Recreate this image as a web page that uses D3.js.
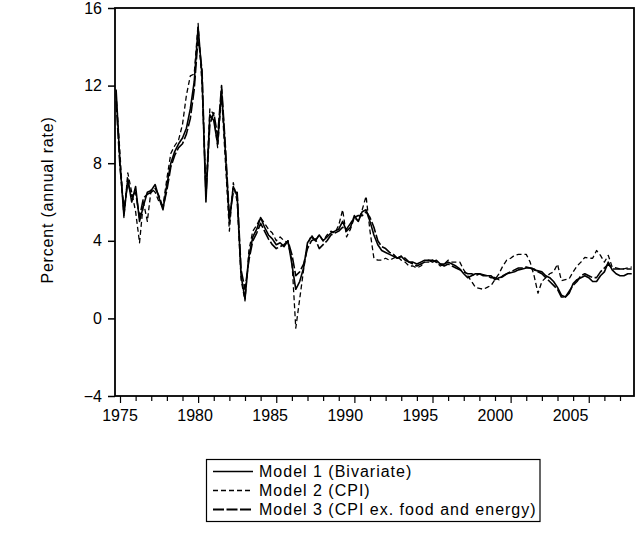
<!DOCTYPE html>
<html><head><meta charset="utf-8">
<script src="https://cdn.jsdelivr.net/npm/d3@7"></script>
<style>
body{margin:0;background:#fff}
svg{display:block}
text{font-family:"Liberation Sans",Arial,sans-serif;fill:#000}
</style>
</head><body>
<svg id="c" width="635" height="558"></svg>
<script>
// quarterly data, first observation 1974Q4
const startYear = 1974.75;
const model1 = [11.8,
8.0,5.3,7.2,6.0,
6.8,5.0,5.8,6.5,
6.6,6.9,6.2,5.6,
6.9,8.0,8.6,9.0,
9.3,9.8,10.8,12.2,
15.0,12.5,6.0,10.5,
10.2,9.0,11.8,8.5,
5.0,6.8,6.3,2.2,
1.0,3.2,4.2,4.6,
5.2,4.7,4.3,4.1,
3.8,3.9,3.7,4.0,
2.8,1.5,1.9,2.6,
3.9,4.2,4.0,4.3,
4.0,4.2,4.4,4.5,
4.6,5.0,4.5,4.7,
5.3,5.0,5.5,5.6,
5.0,4.3,3.8,3.5,
3.4,3.3,3.2,3.1,
3.2,3.0,2.9,2.9,
2.8,2.9,3.0,3.0,
2.9,3.0,2.8,2.8,
2.9,2.8,2.7,2.55,
2.3,2.1,2.2,2.3,
2.3,2.25,2.2,2.2,
2.0,2.1,2.15,2.3,
2.35,2.4,2.5,2.55,
2.6,2.6,2.5,2.45,
2.4,2.2,2.1,1.9,
1.6,1.2,1.1,1.3,
1.8,2.0,2.1,2.2,
2.1,1.9,1.9,2.2,
2.4,2.9,2.5,2.3,
2.2,2.2,2.3,2.3];
const model2 = [11.6,
8.5,5.2,7.5,6.5,
5.5,3.9,6.0,5.0,
6.7,6.5,6.0,5.8,
7.2,8.5,8.9,9.2,
10.0,11.5,12.5,12.6,
15.2,12.0,6.5,10.8,
10.5,8.8,11.5,8.0,
4.5,7.0,6.0,2.0,
0.9,3.5,4.5,4.8,
5.2,4.9,4.6,4.4,
4.0,4.2,4.0,3.9,
3.0,-0.5,1.0,2.5,
3.8,4.3,4.0,4.3,
4.0,4.3,4.5,4.4,
4.8,5.6,4.2,4.6,
5.2,5.0,5.6,6.3,
4.5,3.1,3.0,3.0,
3.1,3.0,3.1,3.2,
3.0,2.9,2.7,2.7,
2.6,2.7,2.9,2.9,
3.0,2.9,2.7,2.8,
3.0,2.9,2.9,2.9,
2.5,2.2,1.9,1.6,
1.55,1.5,1.6,1.7,
2.0,2.3,2.7,3.0,
3.1,3.25,3.3,3.3,
3.3,2.9,2.2,1.3,
1.9,2.1,2.3,2.4,
2.8,1.95,2.0,2.05,
2.4,2.7,2.9,3.15,
3.1,3.1,3.5,3.25,
2.9,3.25,2.65,2.6,
2.55,2.55,2.6,2.65];
const model3 = [11.2,
7.8,5.6,7.0,6.3,
6.5,5.2,6.2,6.4,
6.5,6.7,6.3,5.7,
6.6,7.8,8.4,8.8,
9.0,9.5,10.3,11.8,
14.5,12.8,6.3,10.0,
10.6,9.4,12.0,8.8,
5.2,6.5,6.5,2.5,
1.5,3.0,4.0,4.4,
4.9,4.5,4.1,3.8,
3.6,3.7,3.8,4.0,
3.3,2.2,2.4,2.8,
3.6,4.0,4.1,3.6,
3.8,4.0,4.3,4.4,
4.5,4.7,4.6,4.9,
5.2,5.3,5.3,5.5,
5.2,4.7,4.0,3.7,
3.6,3.4,3.3,3.1,
3.2,3.1,2.9,2.8,
2.7,2.8,2.9,3.0,
3.0,2.9,2.8,2.7,
2.8,2.7,2.6,2.5,
2.4,2.3,2.3,2.2,
2.3,2.2,2.2,2.1,
2.1,2.0,2.2,2.3,
2.4,2.5,2.6,2.6,
2.65,2.6,2.55,2.4,
2.3,2.1,1.9,1.7,
1.5,1.1,1.1,1.4,
1.7,1.9,2.2,2.3,
2.2,2.1,2.1,2.4,
2.6,2.8,2.55,2.55,
2.55,2.55,2.55,2.55];
const yTicks = [-4,0,4,8,12,16];
const xTickYears = d3.range(1975, 2008);
const xLabels = [1975,1980,1985,1990,1995,2000,2005];
const seriesNames = ["Model 1 (Bivariate)","Model 2 (CPI)","Model 3 (CPI ex. food and energy)"];
const yTitle = "Percent (annual rate)";

const L = 115, R = 634, T = 8, B = 396;
const svg = d3.select("#c");

const x = d3.scaleLinear().domain([1975 - 5/15.625, 1975 + (R-120)/15.625]).range([L, R]);
const xLab = d3.scaleLinear().domain([1975, 2005]).range([119.5, 570]);
const y = d3.scaleLinear().domain([-4, 16]).range([B, T]);

// x ticks
const gx = svg.append("g").attr("transform", `translate(0,${B})`)
  .call(d3.axisBottom(x).tickValues(xTickYears).tickSize(5).tickFormat(""));
gx.select(".domain").remove();
gx.selectAll(".tick line").attr("stroke","#000").attr("stroke-width",1.2)
  .attr("y2", d => d % 5 === 0 ? 7 : 5);

const gxl = svg.append("g").attr("transform", `translate(0,${B})`)
  .call(d3.axisBottom(xLab).tickValues(xLabels).tickSize(0).tickPadding(14).tickFormat(d3.format("d")));
gxl.select(".domain").remove();
gxl.selectAll("text").attr("font-size", 16).attr("font-family", "'Liberation Sans',Arial,sans-serif").attr("fill","#000");

// y axis
const gy = svg.append("g").attr("transform", `translate(${L},0)`)
  .call(d3.axisLeft(y).tickValues(yTicks).tickSize(7).tickPadding(6).tickFormat(d3.format("d")));
gy.select(".domain").remove();
gy.selectAll(".tick line").attr("stroke","#000").attr("stroke-width",1.5);
gy.selectAll("text").attr("font-size", 16).attr("font-family", "'Liberation Sans',Arial,sans-serif").attr("fill","#000");

// y title
svg.append("text").attr("transform", `translate(53,200) rotate(-90)`)
  .attr("text-anchor","middle").attr("font-size",16).attr("letter-spacing","0.8px")
  .text(yTitle);

// lines
const line = d3.line().x((d,i) => x(startYear + i*0.25)).y(d => y(d));
const styles = [
  {data: model1, dash: null, w: 1.6},
  {data: model2, dash: "5,3", w: 1.3},
  {data: model3, dash: "11,2.5", w: 1.6}
];
const clip = svg.append("clipPath").attr("id","clp").append("rect")
  .attr("x",L).attr("y",T).attr("width",R-L).attr("height",B-T);
const gl = svg.append("g").attr("clip-path","url(#clp)");
[styles[1], styles[2], styles[0]].forEach(s => {
  gl.append("path").datum(s.data).attr("d", line)
    .attr("fill","none").attr("stroke","#000").attr("stroke-width", s.w)
    .attr("stroke-dasharray", s.dash).attr("stroke-linejoin","round");
});

// frame
svg.append("rect").attr("x",L).attr("y",T).attr("width",R-L).attr("height",B-T)
  .attr("fill","none").attr("stroke","#000").attr("stroke-width",1.8);

// legend
const lg = svg.append("g");
lg.append("rect").attr("x",206.5).attr("y",459.5).attr("width",333.5).attr("height",62)
  .attr("fill","#fff").attr("stroke","#000").attr("stroke-width",1.2);
seriesNames.forEach((n,i) => {
  const by = 477 + i*19;
  lg.append("line").attr("x1",213).attr("x2",253).attr("y1",by-5.5).attr("y2",by-5.5)
    .attr("stroke","#000").attr("stroke-width",styles[i].w + (i===2?0.4:0))
    .attr("stroke-dasharray",styles[i].dash);
  lg.append("text").attr("x",259).attr("y",by).attr("font-size",16)
    .attr("letter-spacing","1px").text(n);
});
</script>
</body></html>
